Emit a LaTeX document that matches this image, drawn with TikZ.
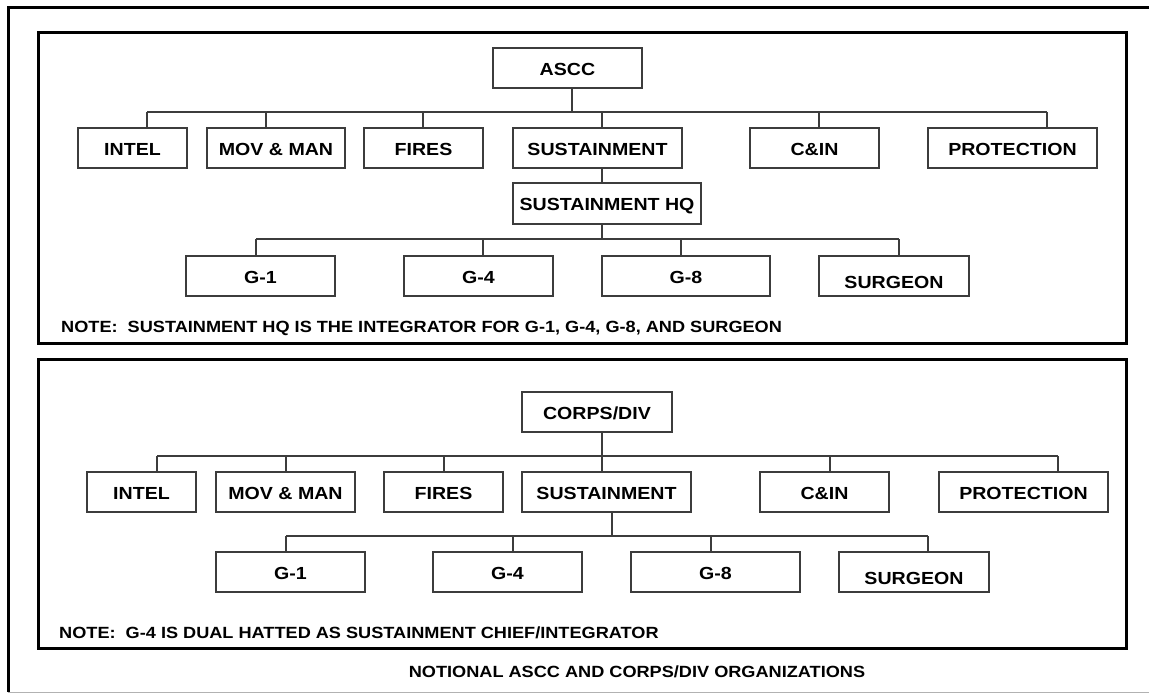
\documentclass[tikz,border=0pt]{standalone}
\usepackage{fontspec}
\setmainfont{Liberation Sans}
\newfontfamily\chartfont[FakeStretch=1.12]{Liberation Sans}
\definecolor{boxgray}{RGB}{60,60,60}
\begin{document}
\begin{tikzpicture}[x=1pt,y=-1pt,
  box/.style={draw=boxgray, line width=1.2pt, fill=white, inner sep=0pt,
    minimum height=40, text height=14.5pt, text depth=0pt, text=black,
    font=\chartfont\bfseries\fontsize{17.5}{20}\selectfont},
  lowtext/.style={text height=24.5pt},
  link/.style={draw=boxgray, line width=1.2pt},
  panel/.style={draw=black, line width=3pt},
  note/.style={inner sep=0pt, text height=12pt, text depth=0pt, text=black,
    font=\chartfont\bfseries\fontsize{16.2}{19}\selectfont}]
\useasboundingbox (0,0) rectangle (1149,694);

% outer frame
\draw[black, line width=3.5pt] (8.5,692) -- (8.5,7.5) -- (1149,7.5);
\draw[gray!60, line width=1.2pt] (8,692.8) -- (1149,692.8);

% the two panels
\draw[panel] (38,32) rectangle (1126,343);
\draw[panel] (38,359) rectangle (1126,648);

% ---------------- ASCC panel ----------------
\node[box, minimum width=149] (ascc) at (567.5,68) {ASCC};
\node[box, minimum width=109] (aintel) at (132.5,148) {INTEL};
\node[box, minimum width=138] (amov) at (276,148) {MOV \& MAN};
\node[box, minimum width=119] (afires) at (423.5,148) {FIRES};
\node[box, minimum width=169] (asust) at (597.5,148) {SUSTAINMENT};
\node[box, minimum width=129] (acin) at (814.5,148) {C\&IN};
\node[box, minimum width=169] (aprot) at (1012.5,148) {PROTECTION};
\node[box, minimum width=188, minimum height=41] (ahq) at (607,203.5) {SUSTAINMENT HQ};
\node[box, minimum width=149] (ag1) at (260.5,276) {G-1};
\node[box, minimum width=149] (ag4) at (478.5,276) {G-4};
\node[box, minimum width=168] (ag8) at (686,276) {G-8};
\node[box, minimum width=150, lowtext] (asurg) at (894,276) {SURGEON};

\coordinate (ta0) at (572,112);
\coordinate (ta1) at (147,112);
\coordinate (ta2) at (266,112);
\coordinate (ta3) at (423,112);
\coordinate (ta4) at (602,112);
\coordinate (ta5) at (819,112);
\coordinate (ta6) at (1047,112);
\draw[link] (ascc.south -| ta0) -- (ta0);
\draw[link] (ta1) -- (ta6);
\draw[link] (ta1) -- (ta1 |- aintel.north);
\draw[link] (ta2) -- (ta2 |- amov.north);
\draw[link] (ta3) -- (ta3 |- afires.north);
\draw[link] (ta4) -- (ta4 |- asust.north);
\draw[link] (ta5) -- (ta5 |- acin.north);
\draw[link] (ta6) -- (ta6 |- aprot.north);
\draw[link] (asust.south -| ta4) -- (ta4 |- ahq.north);

\coordinate (tg0) at (602,239);
\coordinate (tg1) at (256,239);
\coordinate (tg2) at (483,239);
\coordinate (tg3) at (681,239);
\coordinate (tg4) at (899,239);
\draw[link] (ahq.south -| tg0) -- (tg0);
\draw[link] (tg1) -- (tg4);
\draw[link] (tg1) -- (tg1 |- ag1.north);
\draw[link] (tg2) -- (tg2 |- ag4.north);
\draw[link] (tg3) -- (tg3 |- ag8.north);
\draw[link] (tg4) -- (tg4 |- asurg.north);

\node[note, anchor=west] (anote) at (61,326)
  {NOTE:\ \ SUSTAINMENT HQ IS THE INTEGRATOR FOR G-1, G-4, G-8, AND SURGEON};

% ---------------- CORPS/DIV panel ----------------
\node[box, minimum width=150] (corps) at (597,412) {CORPS/DIV};
\node[box, minimum width=109] (cintel) at (141.5,492) {INTEL};
\node[box, minimum width=139] (cmov) at (285.5,492) {MOV \& MAN};
\node[box, minimum width=119] (cfires) at (443.5,492) {FIRES};
\node[box, minimum width=169] (csust) at (606.5,492) {SUSTAINMENT};
\node[box, minimum width=129] (ccin) at (824.5,492) {C\&IN};
\node[box, minimum width=169] (cprot) at (1023.5,492) {PROTECTION};
\node[box, minimum width=149] (cg1) at (290.5,572) {G-1};
\node[box, minimum width=149] (cg4) at (507.5,572) {G-4};
\node[box, minimum width=169] (cg8) at (715.5,572) {G-8};
\node[box, minimum width=150, lowtext] (csurg) at (914,572) {SURGEON};

\coordinate (tc0) at (602,456);
\coordinate (tc1) at (157,456);
\coordinate (tc2) at (286,456);
\coordinate (tc3) at (444,456);
\coordinate (tc4) at (602,456);
\coordinate (tc5) at (830,456);
\coordinate (tc6) at (1058,456);
\draw[link] (corps.south -| tc0) -- (tc0);
\draw[link] (tc1) -- (tc6);
\draw[link] (tc1) -- (tc1 |- cintel.north);
\draw[link] (tc2) -- (tc2 |- cmov.north);
\draw[link] (tc3) -- (tc3 |- cfires.north);
\draw[link] (tc4) -- (tc4 |- csust.north);
\draw[link] (tc5) -- (tc5 |- ccin.north);
\draw[link] (tc6) -- (tc6 |- cprot.north);

\coordinate (td0) at (612,536);
\coordinate (td1) at (286,536);
\coordinate (td2) at (513,536);
\coordinate (td3) at (711,536);
\coordinate (td4) at (928,536);
\draw[link] (csust.south -| td0) -- (td0);
\draw[link] (td1) -- (td4);
\draw[link] (td1) -- (td1 |- cg1.north);
\draw[link] (td2) -- (td2 |- cg4.north);
\draw[link] (td3) -- (td3 |- cg8.north);
\draw[link] (td4) -- (td4 |- csurg.north);

\node[note, anchor=west] (cnote) at (59,632)
  {NOTE:\ \ G-4 IS DUAL HATTED AS SUSTAINMENT CHIEF/INTEGRATOR};

% caption
\node[note] (caption) at (637,671) {NOTIONAL ASCC AND CORPS/DIV ORGANIZATIONS};
\end{tikzpicture}
\end{document}
